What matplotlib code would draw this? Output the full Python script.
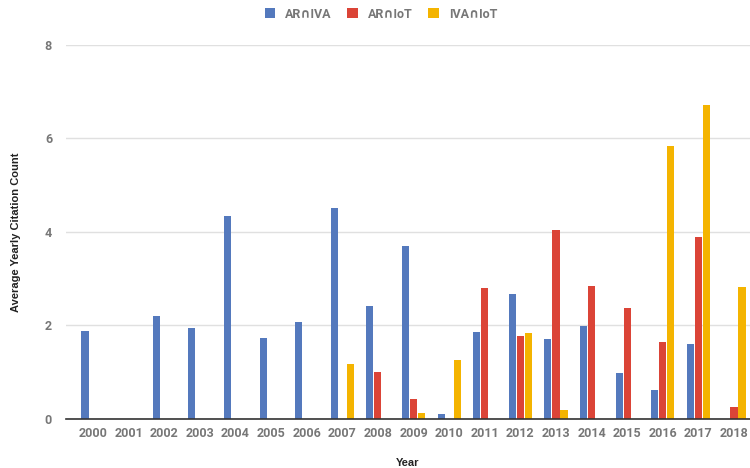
import numpy as np
import matplotlib
matplotlib.use("Agg")
import matplotlib.pyplot as plt

years = ["2000", "2001", "2002", "2003", "2004", "2005", "2006", "2007", "2008", "2009",
         "2010", "2011", "2012", "2013", "2014", "2015", "2016", "2017", "2018"]
series_names = ["AR\u2229IVA", "AR\u2229IoT", "IVA\u2229IoT"]
ar_iva = [1.89, 0, 2.19, 1.95, 4.34, 1.74, 2.07, 4.51, 2.42, 3.69,
          0.11, 1.85, 2.68, 1.70, 1.99, 0.99, 0.62, 1.60, 0]
ar_iot = [0, 0, 0, 0, 0, 0, 0, 0, 1.00, 0.42,
          0, 2.80, 1.78, 4.04, 2.85, 2.38, 1.64, 3.89, 0.25]
iva_iot = [0, 0, 0, 0, 0, 0, 0, 1.17, 0, 0.12,
           1.25, 0, 1.83, 0.19, 0, 0, 5.83, 6.71, 2.82]
colors = ["#5479bd", "#db4437", "#f4b400"]
y_ticks = [0, 2, 4, 6, 8]

fonts = ["Roboto", "DejaVu Sans"]

fig = plt.figure(figsize=(7.5, 4.68), dpi=100)
ax = fig.add_axes([0.088, 0.105, 0.912, 0.799])

x = np.arange(len(years))
w = 0.2
step = 0.225
for i, (vals, name, c) in enumerate(zip([ar_iva, ar_iot, iva_iot], series_names, colors)):
    ax.bar(x + (i - 1) * step, vals, width=w, color=c, label=name, zorder=3)

ax.set_xlim(-0.76, 18.45)
ax.set_ylim(0, 8)
ax.set_yticks(y_ticks)
ax.set_yticklabels([str(t) for t in y_ticks])
ax.set_xticks(x)
ax.set_xticklabels(years)

ax.grid(axis="y", color="#e0e0e0", linewidth=1, zorder=0)
for s in ["top", "right", "left"]:
    ax.spines[s].set_visible(False)
ax.spines["bottom"].set_color("#333333")
ax.spines["bottom"].set_linewidth(1.2)
ax.spines["bottom"].set_zorder(4)
ax.tick_params(axis="both", length=0, colors="#777777", labelsize=9)
ax.tick_params(axis="x", pad=6)
ax.tick_params(axis="y", pad=10)
for lab in ax.get_xticklabels() + ax.get_yticklabels():
    lab.set_family(fonts)
    lab.set_fontweight("bold")

ax.set_xlabel("Year", fontsize=8, fontweight="bold", family="Liberation Sans",
              color="#222222", labelpad=13)
ax.set_ylabel("Average Yearly Citation Count", fontsize=8, fontweight="bold",
              family="Liberation Sans", color="#222222", labelpad=17)

leg = fig.legend(loc="upper center", bbox_to_anchor=(0.508, 1.008), ncol=3, frameon=False,
                 handlelength=0.85, handleheight=0.85, columnspacing=1.25, handletextpad=0.8,
                 prop={"family": fonts, "weight": "bold", "size": 9})
for t in leg.get_texts():
    t.set_color("#777777")

fig.savefig("out.png", dpi=100)
